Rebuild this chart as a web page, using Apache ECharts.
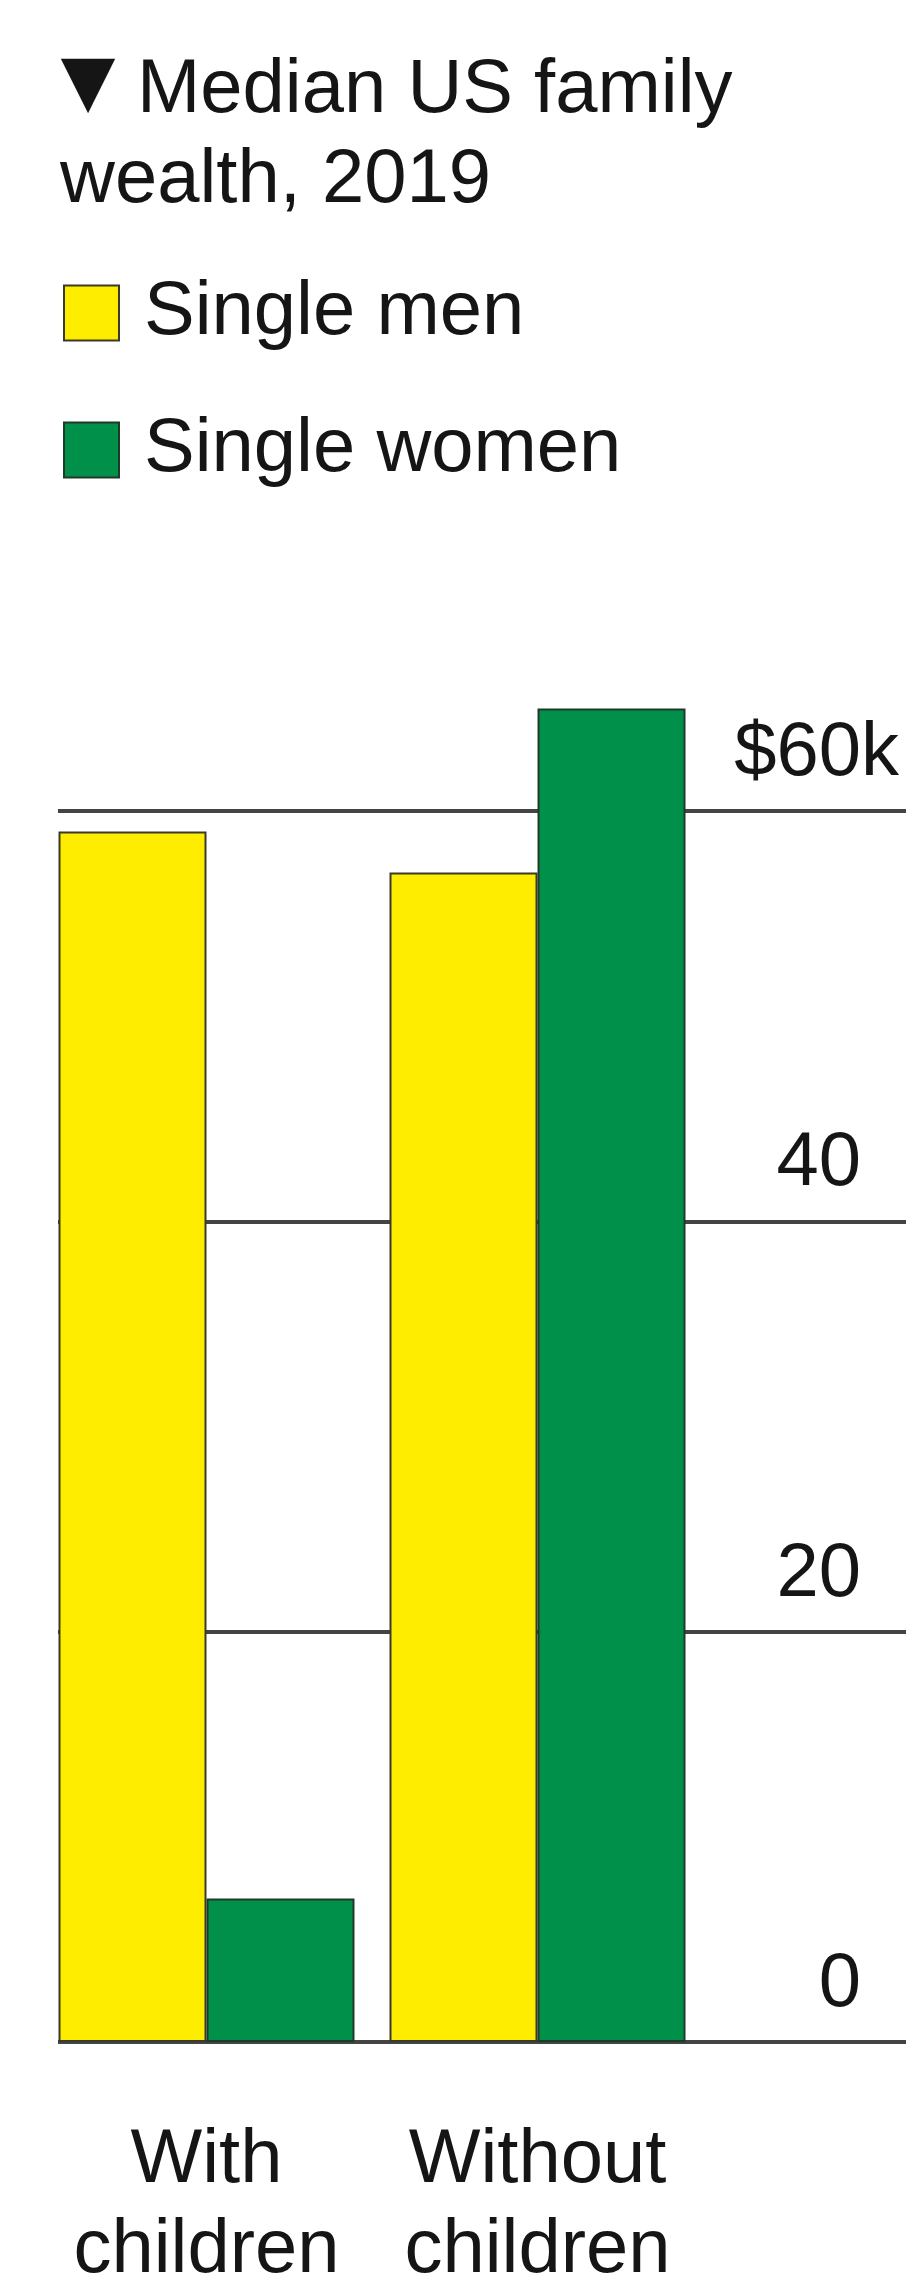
<!DOCTYPE html>
<html>
<head>
<meta charset="utf-8">
<script src="https://cdn.jsdelivr.net/npm/echarts@6/dist/echarts.min.js"></script>
<style>
html,body{margin:0;padding:0;background:#fff;}
#chart{width:915px;height:2274px;}
</style>
</head>
<body>
<div id="chart"></div>
<script>
const categories = ['With\nchildren', 'Without\nchildren'];
const seriesNames = ['Single men', 'Single women'];
const singleMen = [59, 57];
const singleWomen = [7, 65];
const yTicks = [0, 20, 40, 60];
const titleMarker = '▼';
const titleLine1 = 'Median US family';
const titleLine2 = 'wealth, 2019';

const FONT = "'Liberation Sans', Arial, Helvetica, sans-serif";
const TXT = '#151515';
const chart = echarts.init(document.getElementById('chart'));
chart.setOption({
  backgroundColor: '#ffffff',
  animation: false,
  title: [
    { text: titleMarker, left: 42, top: 40, padding: 0,
      textStyle: { fontFamily: FONT, fontSize: 93, lineHeight: 93, fontWeight: 'normal', color: TXT } },
    { text: titleLine1, left: 137, top: 46, padding: 0,
      textStyle: { fontFamily: FONT, fontSize: 76, lineHeight: 90, fontWeight: 'normal', color: TXT } },
    { text: titleLine2, left: 60, top: 136, padding: 0,
      textStyle: { fontFamily: FONT, fontSize: 76, lineHeight: 90, fontWeight: 'normal', color: TXT } }
  ],
  legend: {
    orient: 'vertical', left: 63, top: 275, padding: 0,
    itemWidth: 55, itemHeight: 55, itemGap: 61,
    icon: 'rect',
    data: seriesNames,
    textStyle: { fontFamily: FONT, fontSize: 76, color: TXT, lineHeight: 55, padding: [0, 0, 0, 20] }
  },
  grid: [
    { left: 58, right: 9, top: 811, bottom: 232, outerBoundsMode: 'none', containLabel: false },
    { left: 41, right: 212, top: 811, bottom: 232, outerBoundsMode: 'none', containLabel: false }
  ],
  xAxis: [
    { gridIndex: 0, type: 'value', min: 0, max: 1, show: false },
    {
      gridIndex: 1, type: 'category', data: categories,
      axisLine: { show: false }, axisTick: { show: false },
      axisLabel: { interval: 0, margin: 74, fontFamily: FONT, fontSize: 76, lineHeight: 90, color: TXT }
    }
  ],
  yAxis: [
    {
      gridIndex: 0, type: 'value', min: 0, max: 60, interval: 20, position: 'right',
      axisLine: { show: false }, axisTick: { show: false },
      splitLine: { show: true, lineStyle: { color: '#444444', width: 4 } },
      axisLabel: {
        inside: true, margin: 7, align: 'right', verticalAlign: 'middle',
        padding: [0, 0, 114, 0],
        fontFamily: FONT, fontSize: 76, color: TXT,
        formatter: function (v) { return v === 60 ? '$60k' : v + '{h|k}'; },
        rich: { h: { fontFamily: FONT, fontSize: 76, color: 'rgba(0,0,0,0)' } }
      }
    },
    { gridIndex: 1, type: 'value', min: 0, max: 60, interval: 20, show: false }
  ],
  series: [
    {
      name: seriesNames[0], type: 'bar', xAxisIndex: 1, yAxisIndex: 1,
      data: singleMen, barWidth: 148, barGap: '0%', clip: false,
      itemStyle: { color: '#FFED00', borderColor: '#3a3a2a', borderWidth: 2 }
    },
    {
      name: seriesNames[1], type: 'bar', xAxisIndex: 1, yAxisIndex: 1,
      data: singleWomen, barWidth: 148, barGap: '0%', clip: false,
      itemStyle: { color: '#00904A', borderColor: '#1f3a28', borderWidth: 2 }
    }
  ]
});
</script>
</body>
</html>
